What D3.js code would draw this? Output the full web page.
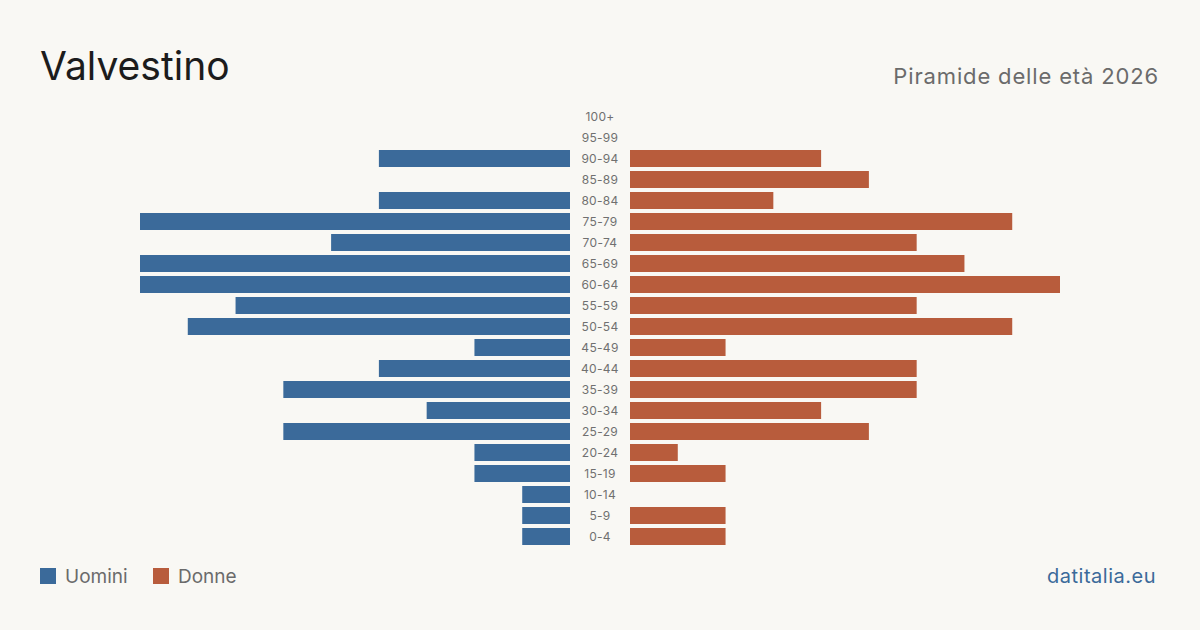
<!DOCTYPE html>
<html>
<head>
<meta charset="utf-8">
<script src="https://cdn.jsdelivr.net/npm/d3@7"></script>
<style>
  body { margin: 0; background: #f9f8f4; }
  svg { display: block; font-family: Inter, "Open Sans", sans-serif; }
</style>
</head>
<body>
<div id="chart"></div>
<script>
// Classi d'età, dalla più anziana alla più giovane
const ageGroups = ["100+", "95-99", "90-94", "85-89", "80-84", "75-79", "70-74", "65-69", "60-64",
  "55-59", "50-54", "45-49", "40-44", "35-39", "30-34", "25-29", "20-24", "15-19", "10-14", "5-9", "0-4"];
const maleValues = [0, 0, 4, 0, 4, 9, 5, 9, 9, 7, 8, 2, 4, 6, 3, 6, 2, 2, 1, 1, 1];
const femaleValues = [0, 0, 4, 5, 3, 8, 6, 7, 9, 6, 8, 2, 6, 6, 4, 5, 1, 2, 0, 2, 2];
const legendLabels = ["Uomini", "Donne"];

const W = 1200, H = 630;
const colMale = "#3b6a9a", colFemale = "#b85c3c";
const centerX = 600, gap = 30;

const svg = d3.select("#chart").append("svg")
  .attr("width", W).attr("height", H);

svg.append("rect").attr("width", W).attr("height", H).attr("fill", "#f9f8f4");

const maxVal = d3.max([...maleValues, ...femaleValues]);
const x = d3.scaleLinear().domain([0, maxVal]).range([0, 430]);

const y = d3.scaleBand()
  .domain(ageGroups)
  .range([106, 106 + 21 * ageGroups.length])
  .paddingInner(4 / 21)
  .paddingOuter(2 / 21);

const rows = ageGroups.map((g, i) => ({ g, m: maleValues[i], f: femaleValues[i] }));

// barre uomini
svg.selectAll(".bar.male")
  .data(rows.filter(d => d.m > 0))
  .enter().append("rect")
  .attr("class", "bar male")
  .attr("x", d => centerX - gap - x(d.m))
  .attr("y", d => y(d.g))
  .attr("width", d => x(d.m))
  .attr("height", y.bandwidth())
  .attr("fill", colMale);

// barre donne
svg.selectAll(".bar.female")
  .data(rows.filter(d => d.f > 0))
  .enter().append("rect")
  .attr("class", "bar female")
  .attr("x", centerX + gap)
  .attr("y", d => y(d.g))
  .attr("width", d => x(d.f))
  .attr("height", y.bandwidth())
  .attr("fill", colFemale);

// etichette classi
svg.selectAll(".age")
  .data(ageGroups)
  .enter().append("text")
  .attr("x", centerX)
  .attr("y", d => y(d) + y.bandwidth() / 2)
  .attr("dy", "0.35em")
  .attr("text-anchor", "middle")
  .attr("font-size", 12)
  .attr("letter-spacing", 0.3)
  .attr("fill", "#707070")
  .text(d => d);

// titolo
svg.append("text")
  .attr("x", 40).attr("y", 80)
  .attr("font-size", 39)
  .attr("fill", "#1c1c1c")
  .text("Valvestino");

svg.append("text")
  .attr("x", 1159).attr("y", 84)
  .attr("text-anchor", "end")
  .attr("font-size", 22)
  .attr("letter-spacing", 0.85)
  .attr("fill", "#6b6b6b")
  .text("Piramide delle età 2026");

// legenda
const legend = svg.selectAll(".legend")
  .data(legendLabels)
  .enter().append("g")
  .attr("transform", (d, i) => `translate(${i === 0 ? 40 : 153},568)`);

legend.append("rect")
  .attr("width", 16).attr("height", 16)
  .attr("fill", (d, i) => i === 0 ? colMale : colFemale);

legend.append("text")
  .attr("x", 25).attr("y", 15)
  .attr("font-size", 19)
  .attr("fill", "#6b6b6b")
  .text(d => d);

svg.append("text")
  .attr("x", 1156).attr("y", 583)
  .attr("text-anchor", "end")
  .attr("font-size", 20)
  .attr("letter-spacing", 0.5)
  .attr("fill", "#3b6a9a")
  .text("datitalia.eu");
</script>
</body>
</html>
